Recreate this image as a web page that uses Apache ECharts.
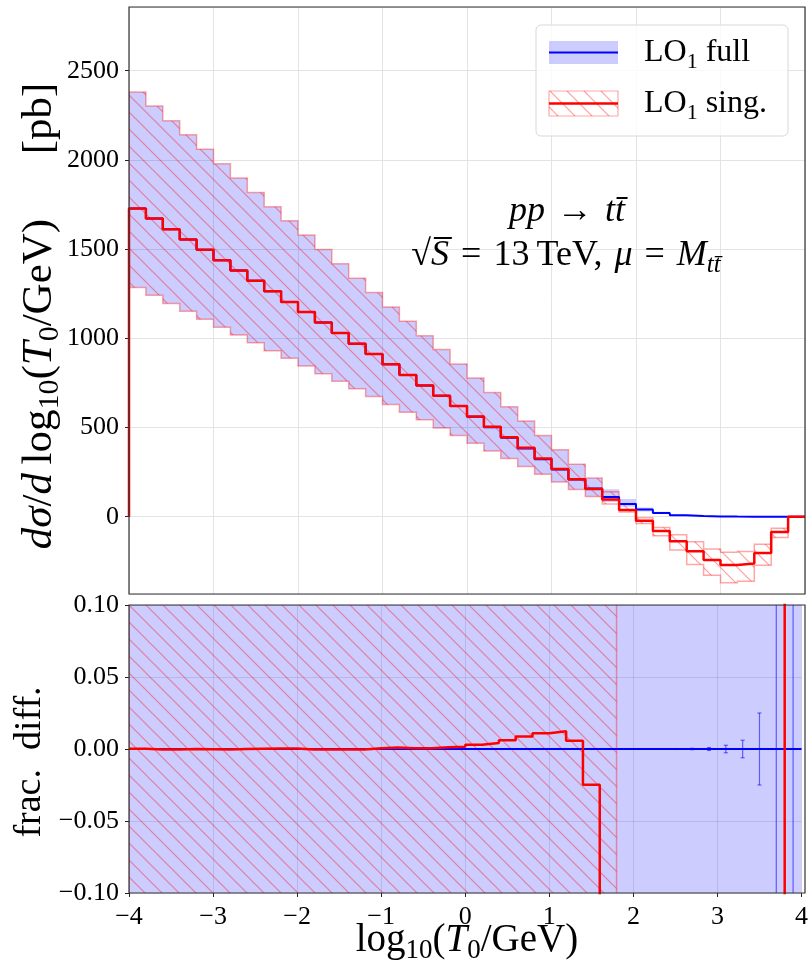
<!DOCTYPE html>
<html>
<head>
<meta charset="utf-8">
<script src="https://cdn.jsdelivr.net/npm/echarts@6/dist/echarts.min.js"></script>
<style>
html, body { margin: 0; padding: 0; background: #fff; }
#main { width: 811px; height: 966px; }
</style>
</head>
<body>
<div id="main"></div>
<script>
// bin edges of log10(T0/GeV), 40 bins of 0.2
var edges = [-4.0, -3.8, -3.6, -3.4, -3.2, -3.0, -2.8, -2.6, -2.4, -2.2,
  -2.0, -1.8, -1.6, -1.4, -1.2, -1.0, -0.8, -0.6, -0.4, -0.2,
  0.0, 0.2, 0.4, 0.6, 0.8, 1.0, 1.2, 1.4, 1.6, 1.8,
  2.0, 2.2, 2.4, 2.6, 2.8, 3.0, 3.2, 3.4, 3.6, 3.8, 4.0];

// LO1 full  [pb]
var fullCentral = [1728, 1672, 1612, 1554, 1496, 1438, 1380, 1322, 1264, 1204,
  1148, 1088, 1030, 970, 912, 854, 794, 736, 678, 620,
  560, 502, 443, 383, 322, 265, 209, 159, 111, 72,
  41, 21, 9, 4, 2, 1, 0.5, 0.3, 0.1, 0];
var fullUpper = [2380, 2302, 2219, 2141, 2060, 1978, 1899, 1818, 1738, 1659,
  1579, 1498, 1418, 1337, 1257, 1176, 1096, 1015, 937, 856,
  777, 697, 616, 536, 455, 375, 294, 217, 154, 99,
  52, 28, 13, 6, 3, 1.5, 0.7, 0.4, 0.2, 0];
var fullLower = [1285, 1242, 1195, 1152, 1107, 1062, 1018, 975, 931, 888,
  845, 802, 760, 717, 674, 629, 586, 543, 498, 455,
  412, 369, 326, 281, 238, 195, 152, 113, 83, 56,
  30, 15, 7, 3, 1.5, 0.7, 0.4, 0.2, 0.1, 0];

// LO1 sing.  [pb]
var singCentral = [1728, 1672, 1612, 1554, 1496, 1438, 1380, 1322, 1264, 1204,
  1148, 1088, 1030, 970, 912, 854, 794, 736, 678, 620,
  562, 504, 446, 386, 326, 268, 210, 155, 97, 38,
  -22, -80, -138, -193, -243, -270, -262, -203, -85, 0];
var singUpper = [2380, 2302, 2219, 2141, 2060, 1978, 1899, 1818, 1738, 1659,
  1579, 1498, 1418, 1337, 1257, 1176, 1096, 1015, 937, 856,
  777, 697, 616, 536, 455, 375, 294, 217, 140, 73,
  -6, -60, -101, -140, -181, -199, -195, -154, -65, 0];
var singLower = [1285, 1242, 1195, 1152, 1107, 1062, 1018, 975, 931, 888,
  845, 802, 760, 717, 674, 629, 586, 543, 498, 455,
  412, 369, 326, 281, 238, 195, 152, 113, 72, 26,
  -38, -107, -187, -267, -328, -370, -362, -272, -117, 0];

// frac. diff. panel
var ratioFull = [0, 0, 0, 0, 0, 0, 0, 0, 0, 0, 0, 0, 0, 0, 0, 0, 0, 0, 0, 0,
  0, 0, 0, 0, 0, 0, 0, 0, 0, 0, 0, 0, 0, 0, 0, 0, 0, 0, 0, 0];
var ratioSing = [0.0002, -0.0004, -0.0004, 0, -0.0001, -0.0004, 0, 0.0002, 0.0003, 0.0004,
  -0.0004, -0.0004, -0.0004, -0.0004, 0.0005, 0.001, 0.0005, 0.0005, 0.0012, 0.0016,
  0.003, 0.0042, 0.006, 0.0086, 0.011, 0.0123, 0.0058, -0.0248, -0.13, -0.47,
  -1.6, -4.8, -16, -49, -120, -270, -520, -680, -850, 900];
var ratioFullHi = [0.38, 0.37, 0.38, 0.38, 0.38, 0.38, 0.38, 0.38, 0.38, 0.38,
  0.38, 0.38, 0.38, 0.38, 0.38, 0.38, 0.38, 0.38, 0.38, 0.38,
  0.39, 0.39, 0.39, 0.4, 0.41, 0.42, 0.41, 0.36, 0.39, 0.38,
  0.27, 0.33, 0.44, 0.5, 0.5, 0.5, 0.4, 0.33, 1, 1];
var ratioFullLo = [-0.26, -0.26, -0.26, -0.26, -0.26, -0.26, -0.26, -0.26, -0.26, -0.26,
  -0.26, -0.26, -0.26, -0.26, -0.26, -0.26, -0.26, -0.26, -0.27, -0.27,
  -0.26, -0.26, -0.26, -0.27, -0.26, -0.26, -0.27, -0.29, -0.25, -0.22,
  -0.27, -0.29, -0.22, -0.25, -0.25, -0.3, -0.2, -0.33, -1, -1];
var ratioSingHi = [0.38, 0.37, 0.38, 0.38, 0.38, 0.38, 0.38, 0.38, 0.38, 0.38,
  0.38, 0.38, 0.38, 0.38, 0.38, 0.38, 0.38, 0.38, 0.38, 0.38,
  0.39, 0.39, 0.39, 0.4, 0.41, 0.42, 0.41, 0.36, 0.26];
var ratioSingLo = [-0.26, -0.26, -0.26, -0.26, -0.26, -0.26, -0.26, -0.26, -0.26, -0.26,
  -0.26, -0.26, -0.26, -0.26, -0.26, -0.26, -0.26, -0.26, -0.27, -0.27,
  -0.26, -0.26, -0.26, -0.27, -0.26, -0.26, -0.27, -0.29, -0.35];
// statistical error bars of LO1 full (bin centres)
var errX = [2.5, 2.7, 2.9, 3.1, 3.3, 3.5, 3.7, 3.9];
var errHalf = [0.0003, 0.0005, 0.001, 0.0026, 0.0061, 0.025, 0.6, 0.9];

var SERIF = "'Liberation Serif', 'DejaVu Serif', serif";
var G1 = { left: 129, top: 7, width: 676, height: 587 };
var G2 = { left: 129, top: 605, width: 676, height: 288 };

function hatch() {
  var p = 17, c = document.createElement('canvas');
  c.width = p; c.height = p;
  var g = c.getContext('2d');
  g.strokeStyle = 'rgba(255,0,0,0.38)';
  g.lineWidth = 1.2;
  [-p, 0, p].forEach(function (o) {
    g.beginPath(); g.moveTo(o - 1, -1); g.lineTo(o + p + 1, p + 1); g.stroke();
  });
  return { image: c, repeat: 'repeat' };
}

// histogram as a step line, optionally starting from zero
function steps(vals, fromZero) {
  var d = fromZero ? [[edges[0], 0]] : [];
  for (var i = 0; i < vals.length; i++) d.push([edges[i], vals[i]]);
  d.push([edges[vals.length], vals[vals.length - 1]]);
  return d;
}

function band(hi, lo, style) {
  return function (params, api) {
    var pts = [], n = hi.length;
    for (var i = 0; i < n; i++) {
      pts.push(api.coord([edges[i], hi[i]]), api.coord([edges[i + 1], hi[i]]));
    }
    for (var j = n - 1; j >= 0; j--) {
      pts.push(api.coord([edges[j + 1], lo[j]]), api.coord([edges[j], lo[j]]));
    }
    return { type: 'polygon', shape: { points: pts }, style: style };
  };
}

function minus(v) { return v < 0 ? '\u2212' + (-v) : String(v); }

var blueFill = 'rgba(0,0,255,0.2)';
var pink = 'rgba(255,0,0,0.35)';

var rich = function (fs) {
  return {
    r: { fontFamily: SERIF, fontSize: fs, lineHeight: fs + 8, fill: '#000' },
    i: { fontFamily: SERIF, fontSize: fs, fontStyle: 'italic', lineHeight: fs + 8, fill: '#000' },
    s: { fontFamily: SERIF, fontSize: Math.round(fs * 0.7), lineHeight: Math.round(fs * 0.66), verticalAlign: 'bottom', fill: '#000' },
    si: { fontFamily: SERIF, fontSize: Math.round(fs * 0.7), fontStyle: 'italic', lineHeight: Math.round(fs * 0.66), verticalAlign: 'bottom', fill: '#000' }
  };
};

var tickFont = { fontFamily: SERIF, fontSize: 26, color: '#000' };

var chart = echarts.init(document.getElementById('main'));

var option = {
  animation: false,
  backgroundColor: '#fff',
  grid: [
    { left: G1.left, top: G1.top, width: G1.width, height: G1.height, show: false },
    { left: G2.left, top: G2.top, width: G2.width, height: G2.height, show: false }
  ],
  xAxis: [{
    gridIndex: 0, type: 'value', min: -4, max: 4, interval: 1,
    axisLine: { show: false, onZero: false }, axisTick: { show: false }, axisLabel: { show: false },
    splitLine: { lineStyle: { color: '#e3e3e3', width: 1 } }
  }, {
    gridIndex: 1, type: 'value', min: -4, max: 4, interval: 1, position: 'bottom',
    axisLine: { show: false, onZero: false },
    axisTick: { show: true, length: 4, lineStyle: { color: '#222' } },
    axisLabel: Object.assign({ margin: 11, formatter: minus }, tickFont),
    splitLine: { lineStyle: { color: 'rgba(150,150,150,0.25)', width: 1 } }
  }],
  yAxis: [{
    gridIndex: 0, type: 'value', min: -433, max: 2857, splitNumber: 6, position: 'left',
    axisLine: { show: false, onZero: false },
    axisTick: { show: true, length: 4, lineStyle: { color: '#222' } },
    axisLabel: Object.assign({ margin: 10, showMinLabel: false, showMaxLabel: false,
      formatter: function (v) { return String(v); } }, tickFont),
    splitLine: { lineStyle: { color: '#e3e3e3', width: 1 } }
  }, {
    gridIndex: 1, type: 'value', min: -0.1, max: 0.1, interval: 0.05, position: 'left',
    axisLine: { show: false, onZero: false },
    axisTick: { show: true, length: 4, lineStyle: { color: '#222' } },
    axisLabel: Object.assign({ margin: 10,
      formatter: function (v) { return (v < -1e-9 ? '\u2212' : '') + Math.abs(v).toFixed(2); } }, tickFont),
    splitLine: { lineStyle: { color: 'rgba(150,150,150,0.25)', width: 1 } }
  }],
  series: [
    { type: 'custom', xAxisIndex: 0, yAxisIndex: 0, clip: true, silent: true, data: [[0, 0]],
      renderItem: band(fullUpper, fullLower, { fill: blueFill }) },
    { type: 'custom', xAxisIndex: 0, yAxisIndex: 0, clip: true, silent: true, data: [[0, 0]],
      renderItem: band(singUpper, singLower, { fill: hatch(), stroke: pink, lineWidth: 1.5 }) },
    { type: 'line', xAxisIndex: 0, yAxisIndex: 0, step: 'end', symbol: 'none', silent: true,
      data: steps(fullCentral, true), lineStyle: { color: '#0000ff', width: 2 } },
    { type: 'line', xAxisIndex: 0, yAxisIndex: 0, step: 'end', symbol: 'none', silent: true,
      data: steps(singCentral, true), lineStyle: { color: '#ff0000', width: 2.5 } },

    { type: 'custom', xAxisIndex: 1, yAxisIndex: 1, clip: true, silent: true, data: [[0, 0]],
      renderItem: band(ratioFullHi, ratioFullLo, { fill: blueFill }) },
    { type: 'custom', xAxisIndex: 1, yAxisIndex: 1, clip: true, silent: true, data: [[0, 0]],
      renderItem: band(ratioSingHi, ratioSingLo, { fill: hatch(), stroke: pink, lineWidth: 1.5 }) },
    { type: 'line', xAxisIndex: 1, yAxisIndex: 1, step: 'end', symbol: 'none', silent: true,
      data: steps(ratioFull, false), lineStyle: { color: '#0000ff', width: 2 } },
    { type: 'custom', xAxisIndex: 1, yAxisIndex: 1, clip: true, silent: true,
      data: errX.map(function (x, i) { return [x, -errHalf[i], errHalf[i]]; }),
      renderItem: function (params, api) {
        var x = api.value(0);
        var a = api.coord([x, api.value(2)]), b = api.coord([x, api.value(1)]);
        var st = { stroke: 'rgba(0,0,255,0.55)', lineWidth: 1.2 };
        return { type: 'group', children: [
          { type: 'line', shape: { x1: a[0], y1: a[1], x2: b[0], y2: b[1] }, style: st },
          { type: 'line', shape: { x1: a[0] - 2, y1: a[1], x2: a[0] + 2, y2: a[1] }, style: st },
          { type: 'line', shape: { x1: b[0] - 2, y1: b[1], x2: b[0] + 2, y2: b[1] }, style: st }
        ] };
      } },
    { type: 'line', xAxisIndex: 1, yAxisIndex: 1, step: 'end', symbol: 'none', silent: true,
      data: steps(ratioSing, false), lineStyle: { color: '#ff0000', width: 2.5 } }
  ],
  graphic: [
    // frames
    { type: 'rect', z: 50, silent: true, shape: { x: G1.left, y: G1.top, width: G1.width, height: G1.height },
      style: { fill: 'none', stroke: '#333', lineWidth: 1.2 } },
    { type: 'rect', z: 50, silent: true, shape: { x: G2.left, y: G2.top, width: G2.width, height: G2.height },
      style: { fill: 'none', stroke: '#333', lineWidth: 1.2 } },
    // legend
    { type: 'rect', z: 60, silent: true, shape: { x: 536, y: 25, width: 252, height: 111, r: 5 },
      style: { fill: 'rgba(255,255,255,0.8)', stroke: '#d8d8d8', lineWidth: 1 } },
    { type: 'rect', z: 61, silent: true, shape: { x: 549, y: 41, width: 69, height: 23 },
      style: { fill: blueFill } },
    { type: 'line', z: 62, silent: true, shape: { x1: 549, y1: 52.5, x2: 618, y2: 52.5 },
      style: { stroke: '#0000ff', lineWidth: 2 } },
    { type: 'rect', z: 61, silent: true, shape: { x: 549, y: 91, width: 69, height: 25 },
      style: { fill: hatch(), stroke: pink, lineWidth: 1.2 } },
    { type: 'line', z: 62, silent: true, shape: { x1: 549, y1: 103.5, x2: 618, y2: 103.5 },
      style: { stroke: '#ff0000', lineWidth: 2.5 } },
    { type: 'text', z: 62, silent: true, x: 644, y: 53,
      style: { text: '{r|LO}{s|1}{r| full}', rich: rich(32), align: 'left', verticalAlign: 'middle' } },
    { type: 'text', z: 62, silent: true, x: 644, y: 104,
      style: { text: '{r|LO}{s|1}{r| sing.}', rich: rich(32), align: 'left', verticalAlign: 'middle' } },
    // process annotation
    { type: 'text', z: 62, silent: true, x: 567, y: 212,
      style: { text: '{i|pp}{r|\u2004\u2192\u2004}{i|tt\u0304}', rich: rich(36), align: 'center', verticalAlign: 'middle' } },
    { type: 'text', z: 62, silent: true, x: 566, y: 256,
      style: { text: '{r|\u221a}{i|S\u0305}{r|\u2004=\u200413\u2009TeV,\u2004}{i|\u03bc}{r|\u2004=\u2004}{i|M}{si|tt\u0304}',
        rich: rich(36), align: 'center', verticalAlign: 'middle' } },
    // axis titles
    { type: 'text', z: 62, silent: true, x: 40, y: 316, rotation: Math.PI / 2,
      style: { text: '{i|d\u03c3}{r|/}{i|d}{r|\u2009log}{s|10}{r|(}{i|T}{s|0}{r|/GeV)\u2003\u2002[pb]}',
        rich: rich(43), align: 'center', verticalAlign: 'middle' } },
    { type: 'text', z: 62, silent: true, x: 30, y: 762, rotation: Math.PI / 2,
      style: { text: '{r|frac.\u2002diff.}', rich: rich(38), align: 'center', verticalAlign: 'middle' } },
    { type: 'text', z: 62, silent: true, x: 467, y: 941,
      style: { text: '{r|log}{s|10}{r|(}{i|T}{s|0}{r|/GeV)}', rich: rich(39), align: 'center', verticalAlign: 'middle' } }
  ]
};

chart.setOption(option);
</script>
</body>
</html>
